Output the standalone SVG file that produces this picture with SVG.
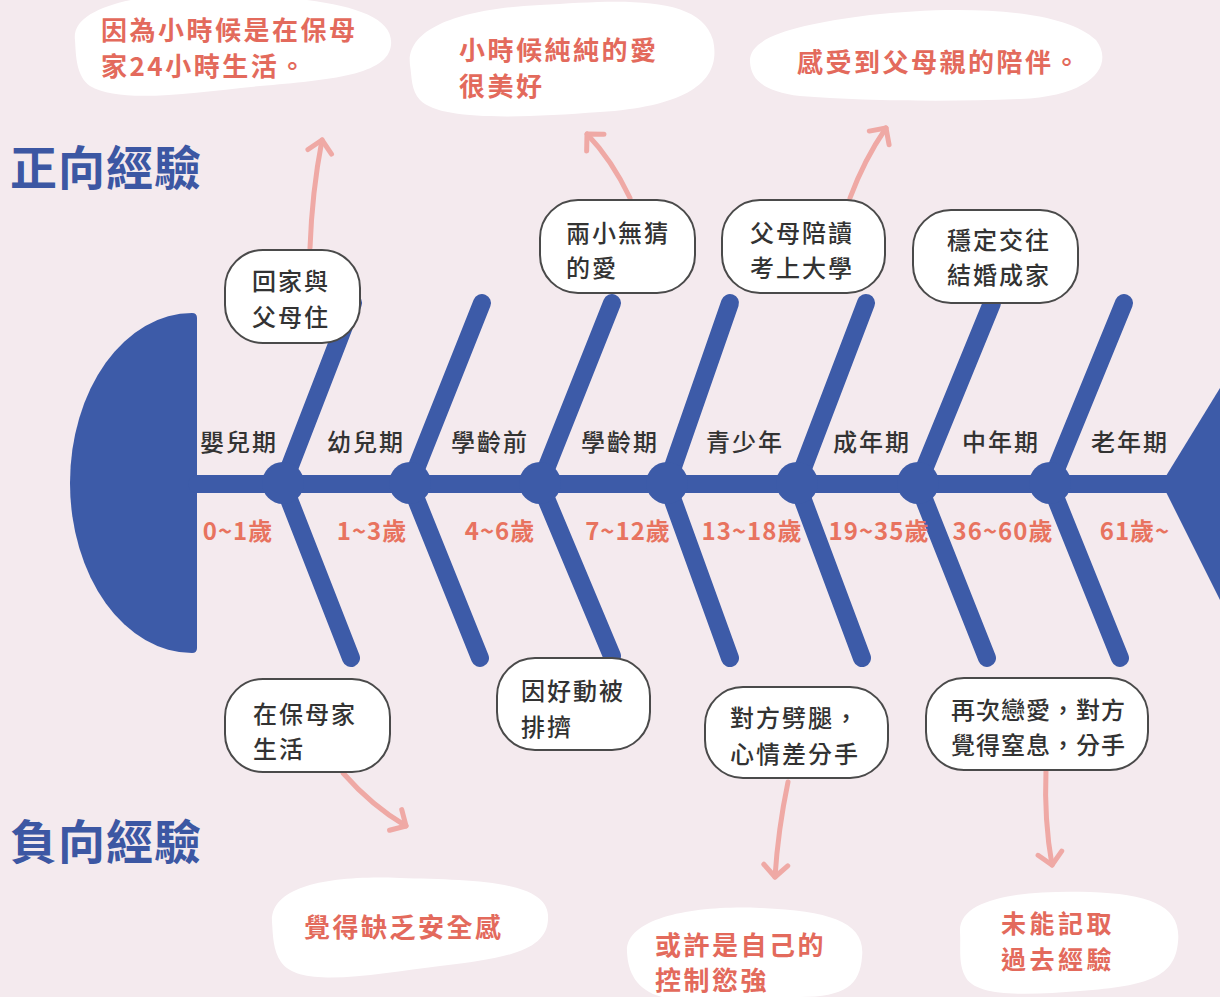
<svg xmlns="http://www.w3.org/2000/svg" width="1220" height="997" viewBox="0 0 1220 997">
<style>
.bone{stroke:#3d5ba8;stroke-width:18;stroke-linecap:round;fill:none}
.stage{font-family:"Noto Sans CJK TC","Noto Sans CJK SC",sans-serif;font-size:24px;font-weight:500;fill:#333;text-anchor:middle;letter-spacing:2px}
.age{font-family:"Noto Sans CJK TC","Noto Sans CJK SC",sans-serif;font-size:24px;font-weight:700;fill:#e8735f;text-anchor:middle;letter-spacing:1px}
.box{fill:#fff;stroke:#4a4a4a;stroke-width:2}
.bt{font-family:"Noto Sans CJK TC","Noto Sans CJK SC",sans-serif;font-size:24px;font-weight:500;fill:#333;letter-spacing:2px}
.blob{fill:#fff}
.ct{font-family:"Noto Sans CJK TC","Noto Sans CJK SC",sans-serif;font-size:26px;font-weight:700;fill:#e36a5c;letter-spacing:2.5px}
.title{font-family:"Noto Sans CJK TC","Noto Sans CJK SC",sans-serif;font-size:47px;font-weight:700;fill:#3c57a3;letter-spacing:1px}
.arr{fill:none;stroke:#efa9a5;stroke-width:5;stroke-linecap:round;marker-end:url(#chev)}
</style>
<defs>
<marker id="chev" markerUnits="userSpaceOnUse" viewBox="-18 -18 24 36" refX="0" refY="0" markerWidth="24" markerHeight="36" orient="auto">
<path d="M-12,-12 L0,0 L-12,12" fill="none" stroke="#efa9a5" stroke-width="5" stroke-linecap="round" stroke-linejoin="round"/>
</marker>
</defs>
<rect width="1220" height="997" fill="#f4eaee"/>

<g id="titles">
<text class="title" x="10" y="185">正向經驗</text>
<text class="title" x="10" y="859">負向經驗</text>
</g>

<g id="clouds">
<g id="cloud-1">
<path class="blob" d="M75,40 C70,5 150,-10 230,-6 C320,-2 395,8 391,45 C388,75 330,80 260,86 C190,93 120,104 90,86 C76,76 76,56 75,40 Z"/>
<text class="ct" x="101" y="40">因為小時候是在保母</text>
<text class="ct" x="101" y="76">家24小時生活。</text>
</g>
<g id="cloud-2">
<path class="blob" d="M410,65 C405,25 470,8 540,5 C620,0 700,-6 713,40 C722,80 690,106 600,112 C520,118 440,121 420,100 C411,90 412,78 410,65 Z"/>
<text class="ct" x="459" y="60">小時候純純的愛</text>
<text class="ct" x="459" y="96">很美好</text>
</g>
<g id="cloud-3">
<path class="blob" d="M750,62 C748,36 800,24 870,15 C950,6 1060,6 1096,40 C1115,65 1092,96 1020,99 C950,102 860,101 800,96 C762,91 751,79 750,62 Z"/>
<text class="ct" x="797" y="72">感受到父母親的陪伴。</text>
</g>
<g id="cloud-4">
<path class="blob" d="M272,922 C270,886 330,875 400,878 C470,880 546,880 548,915 C550,950 510,958 440,966 C380,973 300,990 281,962 C273,950 273,936 272,922 Z"/>
<text class="ct" x="304" y="937">覺得缺乏安全感</text>
</g>
<g id="cloud-5">
<path class="blob" d="M627,952 C625,916 700,905 760,908 C830,911 866,922 862,957 C860,985 845,997 800,997 L662,997 C636,990 628,972 627,952 Z"/>
<text class="ct" x="655" y="955">或許是自己的</text>
<text class="ct" x="655" y="990">控制慾強</text>
</g>
<g id="cloud-6">
<path class="blob" d="M960,932 C958,896 1030,890 1090,892 C1150,894 1182,906 1178,942 C1175,976 1150,986 1080,991 C1030,995 975,998 965,976 C958,963 961,946 960,932 Z"/>
<text class="ct" x="1001" y="933" style="font-size:25px;letter-spacing:3.5px">未能記取</text>
<text class="ct" x="1001" y="969" style="font-size:25px;letter-spacing:3.5px">過去經驗</text>
</g>
</g>

<g id="connectors">
<path class="arr" d="M310,248 Q312,192 322,140"/>
<path class="arr" d="M630,198 Q612,160 587,134"/>
<path class="arr" d="M850,198 Q864,160 886,128"/>
<path class="arr" d="M343,773 Q372,806 406,826"/>
<path class="arr" d="M788,782 Q778,830 775,877"/>
<path class="arr" d="M1046,770 Q1044,820 1052,865"/>
</g>

<g id="fish">
<path id="head" d="M197,318 Q197,313 192,313 A122,170 0 0 0 192,653 Q197,653 197,648 Z" fill="#3d5ba8"/>
<line class="bone" x1="197" y1="484" x2="1185" y2="484"/>
<path id="tail" d="M1166,476 L1220,388 L1220,600 L1166,492 Z" fill="#3d5ba8"/>
<g id="bones">
<line class="bone" x1="283" y1="484" x2="353" y2="303"/><line class="bone" x1="283" y1="484" x2="351" y2="658"/>
<line class="bone" x1="410" y1="484" x2="482" y2="303"/><line class="bone" x1="410" y1="484" x2="480" y2="658"/>
<line class="bone" x1="540" y1="484" x2="612" y2="303"/><line class="bone" x1="540" y1="484" x2="612" y2="656"/>
<line class="bone" x1="667" y1="484" x2="730" y2="303"/><line class="bone" x1="667" y1="484" x2="730" y2="658"/>
<line class="bone" x1="797" y1="484" x2="866" y2="303"/><line class="bone" x1="797" y1="484" x2="862" y2="658"/>
<line class="bone" x1="918" y1="484" x2="992" y2="303"/><line class="bone" x1="918" y1="484" x2="987" y2="658"/>
<line class="bone" x1="1050" y1="484" x2="1124" y2="303"/><line class="bone" x1="1050" y1="484" x2="1120" y2="658"/>
</g>
<g id="joints" fill="#3d5ba8">
<circle cx="283" cy="483" r="21"/><circle cx="410" cy="483" r="21"/><circle cx="540" cy="483" r="21"/>
<circle cx="667" cy="483" r="21"/><circle cx="797" cy="483" r="21"/><circle cx="918" cy="483" r="21"/><circle cx="1050" cy="483" r="21"/>
</g>
</g>

<g id="stages">
<text class="stage" x="239" y="451">嬰兒期</text>
<text class="stage" x="366" y="451">幼兒期</text>
<text class="stage" x="490" y="451">學齡前</text>
<text class="stage" x="620" y="451">學齡期</text>
<text class="stage" x="745" y="451">青少年</text>
<text class="stage" x="872" y="451">成年期</text>
<text class="stage" x="1001" y="451">中年期</text>
<text class="stage" x="1130" y="451">老年期</text>
</g>
<g id="ages">
<text class="age" x="238" y="540">0~1歲</text>
<text class="age" x="372" y="540">1~3歲</text>
<text class="age" x="500" y="540">4~6歲</text>
<text class="age" x="628" y="540">7~12歲</text>
<text class="age" x="752" y="540">13~18歲</text>
<text class="age" x="879" y="540">19~35歲</text>
<text class="age" x="1003" y="540">36~60歲</text>
<text class="age" x="1135" y="540">61歲~</text>
</g>

<g id="node-1"><rect class="box" x="225" y="250" width="135" height="93" rx="38"/><text class="bt" x="252" y="290">回家與</text><text class="bt" x="252" y="326">父母住</text></g>
<g id="node-2"><rect class="box" x="540" y="200" width="155" height="93" rx="38"/><text class="bt" x="566" y="242">兩小無猜</text><text class="bt" x="566" y="277">的愛</text></g>
<g id="node-3"><rect class="box" x="722" y="200" width="163" height="93" rx="38"/><text class="bt" x="750" y="242">父母陪讀</text><text class="bt" x="750" y="277">考上大學</text></g>
<g id="node-4"><rect class="box" x="913" y="210" width="165" height="93" rx="38"/><text class="bt" x="947" y="249">穩定交往</text><text class="bt" x="947" y="284">結婚成家</text></g>
<g id="node-5"><rect class="box" x="225" y="679" width="165" height="93" rx="38"/><text class="bt" x="253" y="723">在保母家</text><text class="bt" x="253" y="758">生活</text></g>
<g id="node-6"><rect class="box" x="497" y="658" width="153" height="92" rx="38"/><text class="bt" x="521" y="700">因好動被</text><text class="bt" x="521" y="736">排擠</text></g>
<g id="node-7"><rect class="box" x="705" y="687" width="183" height="91" rx="38"/><text class="bt" x="730" y="727">對方劈腿，</text><text class="bt" x="730" y="763">心情差分手</text></g>
<g id="node-8"><rect class="box" x="926" y="678" width="222" height="92" rx="38"/><text class="bt" x="951" y="719" style="letter-spacing:1px">再次戀愛，對方</text><text class="bt" x="951" y="754" style="letter-spacing:1px">覺得窒息，分手</text></g>
</svg>
